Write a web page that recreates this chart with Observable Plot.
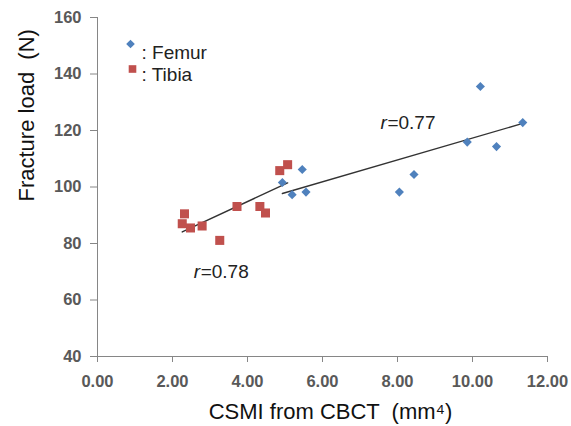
<!DOCTYPE html>
<html>
<head>
<meta charset="utf-8">
<script src="https://cdn.jsdelivr.net/npm/d3@7"></script>
<script src="https://cdn.jsdelivr.net/npm/@observablehq/plot@0.6"></script>
<style>
  html, body { margin: 0; padding: 0; background: #fff; }
  svg [aria-label="x-axis tick label"], svg [aria-label="y-axis tick label"] { font-weight: bold; }
</style>
</head>
<body>
<div id="chart"></div>
<script>
// ---- data ----
const femurX = [4.93, 5.19, 5.46, 5.56, 8.05, 8.44, 9.86, 10.21, 10.64, 11.34];
const femurY = [101.6, 97.3, 106.2, 98.2, 98.2, 104.4, 115.9, 135.6, 114.3, 122.8];
const tibiaX = [2.32, 2.26, 2.48, 2.79, 3.26, 3.72, 4.33, 4.48, 4.86, 5.07];
const tibiaY = [90.5, 87.0, 85.5, 86.2, 81.1, 93.1, 93.1, 90.8, 105.8, 107.9];
const xTicks = [0, 2, 4, 6, 8, 10, 12];
const yTicks = [40, 60, 80, 100, 120, 140, 160];
const seriesNames = ["Femur", "Tibia"];
const rLabels = ["=0.77", "=0.78"];
const rAnchorX = [7.73, 2.75];
const rAnchorY = [122.6, 70.1];
const xLabel = "CSMI from CBCT  (mm\u2074)";
const yLabel = "Fracture load  (N)";

const femur = femurX.map((x, i) => ({x, y: femurY[i]}));
const tibia = tibiaX.map((x, i) => ({x, y: tibiaY[i]}));
const rAnn = rLabels.map((t, i) => ({t, x: rAnchorX[i], y: rAnchorY[i]}));

const blue = "#4F81BD", red = "#C0504D", axisGray = "#868686", tickText = "#595959";

const chart = Plot.plot({
  width: 571,
  height: 426,
  marginLeft: 97,
  marginRight: 24,
  marginTop: 17,
  marginBottom: 70,
  style: {fontFamily: "'Liberation Sans', Arial, sans-serif", background: "#fff"},
  x: {domain: [0, 12]},
  y: {domain: [40, 160]},
  marks: [
    Plot.ruleX([0], {stroke: axisGray, strokeWidth: 1}),
    Plot.ruleY([40], {stroke: axisGray, strokeWidth: 1}),
    Plot.axisX({ticks: xTicks, tickFormat: d => d.toFixed(2), tickSize: 6, tickPadding: 13,
      stroke: axisGray, fill: tickText, fontSize: 16.5, label: null}),
    Plot.axisY({ticks: yTicks, tickSize: 7, tickPadding: 9,
      stroke: axisGray, fill: tickText, fontSize: 16.5, label: null}),
    Plot.linearRegressionY(tibia, {x: "x", y: "y", stroke: "#333", strokeWidth: 1.4, ci: 0}),
    Plot.linearRegressionY(femur, {x: "x", y: "y", stroke: "#333", strokeWidth: 1.4, ci: 0}),
    Plot.dot(tibia, {x: "x", y: "y", symbol: "square", r: 5.1, fill: red, stroke: "none"}),
    Plot.dot(femur, {x: "x", y: "y", symbol: "diamond2", r: 4.1, fill: blue, stroke: "none"}),
    // r annotations
    Plot.text(rAnn, {x: "x", y: "y", text: () => "r", textAnchor: "end", fontStyle: "italic", fontSize: 19, fill: "#222", dx: -0.5}),
    Plot.text(rAnn, {x: "x", y: "y", text: "t", textAnchor: "start", fontSize: 19, fill: "#222"}),
    // legend
    Plot.dot([seriesNames[0]], {frameAnchor: "top-left", dx: 33, dy: 26.5, symbol: "diamond2", r: 3.9, fill: blue}),
    Plot.dot([seriesNames[1]], {frameAnchor: "top-left", dx: 35, dy: 51.5, symbol: "square", r: 4.3, fill: red}),
    Plot.text([": " + seriesNames[0]], {frameAnchor: "top-left", dx: 44, dy: 28, textAnchor: "start", fontSize: 19, fill: "#222"}),
    Plot.text([": " + seriesNames[1]], {frameAnchor: "top-left", dx: 44, dy: 50, textAnchor: "start", fontSize: 19, fill: "#222"}),
    // axis titles
    Plot.text([xLabel], {frameAnchor: "bottom", dx: 8, dy: 62, lineAnchor: "bottom", fontSize: 22, fill: "#111"}),
    Plot.text([yLabel], {frameAnchor: "left", dx: -64, dy: 14.5, rotate: -90, lineAnchor: "bottom", fontSize: 22, fill: "#111"})
  ]
});
document.getElementById("chart").appendChild(chart);
</script>
</body>
</html>
